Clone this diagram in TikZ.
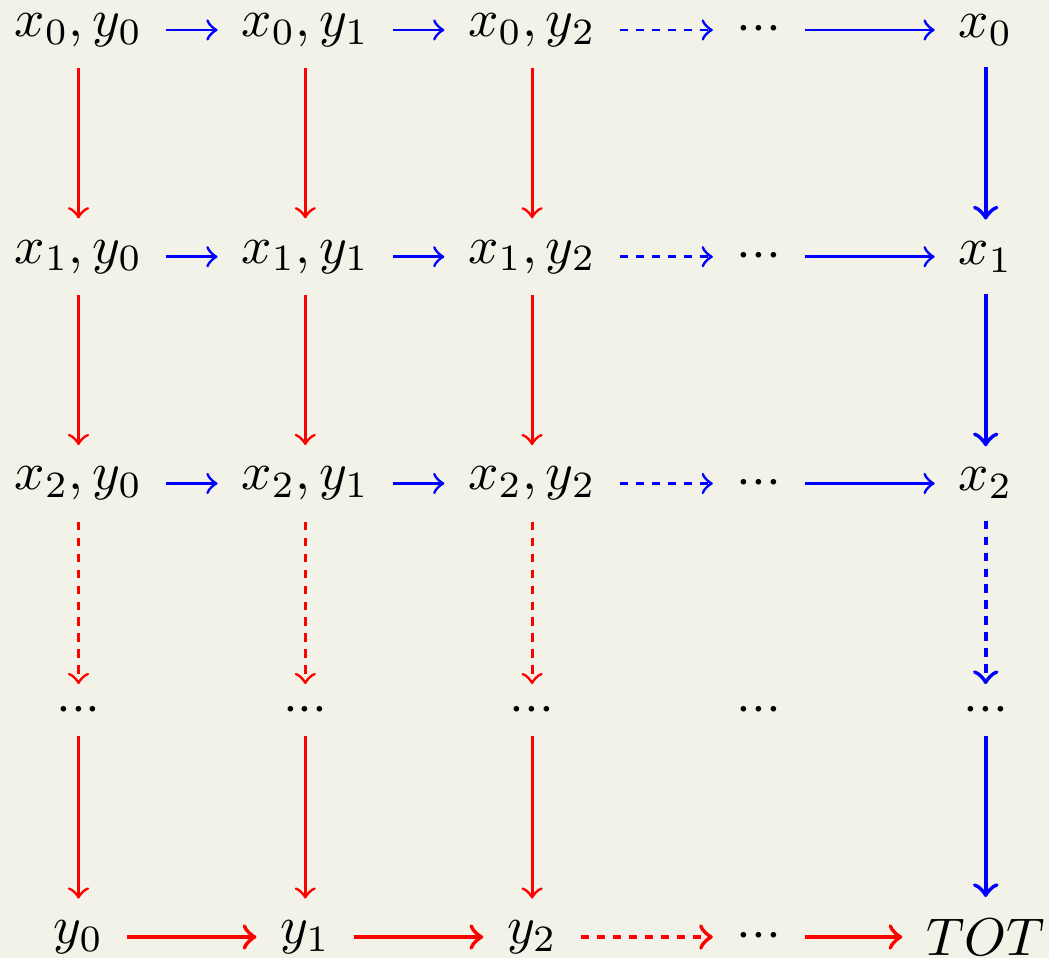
\documentclass[tikz,border=0pt]{standalone}
\usetikzlibrary{positioning}
\definecolor{bg}{RGB}{242,242,232}
\newcommand{\mydots}{${\cdot}{\cdot}{\cdot}$}
\begin{document}
\begin{tikzpicture}[x=0.18823pt,y=-0.18823pt,
  cell/.style={inner xsep=4.3pt,inner ysep=3.9pt},
  dotcell/.style={inner xsep=4.3pt,inner ysep=2.5pt},
  ar/.style={->},
  thinred/.style={ar,red,line width=0.55pt},
  thinblue/.style={ar,blue,line width=0.55pt},
  thickred/.style={ar,red,line width=0.8pt},
  thickblue/.style={ar,blue,line width=0.8pt},
  dsh/.style={dash pattern=on 1.6pt off 1.4pt}]
\fill[bg] (0,0) rectangle (1049,958);
\useasboundingbox (0,0) rectangle (1049,958);
% rows 1-3
\foreach \r in {0,1,2}{
  \node[cell] (a\r0) at (78.5,30+226.75*\r) {$x_{\r}, y_0$};
  \node[cell] (a\r1) at (305.3,30+226.75*\r) {$x_{\r}, y_1$};
  \node[cell] (a\r2) at (532.1,30+226.75*\r) {$x_{\r}, y_2$};
  \node[dotcell] (a\r3) at (758.9,30+226.75*\r) {\mydots};
  \node[cell] (a\r4) at (985.7,30+226.75*\r) {$x_{\r}$};
}
% row 4
\node[dotcell] (a30) at (78.5,710.25) {\mydots};
\node[dotcell] (a31) at (305.3,710.25) {\mydots};
\node[dotcell] (a32) at (532.1,710.25) {\mydots};
\node[dotcell] (a33) at (758.9,710.25) {\mydots};
\node[dotcell] (a34) at (985.7,710.25) {\mydots};
% row 5
\node[cell] (a40) at (78.5,937) {$y_0$};
\node[cell] (a41) at (305.3,937) {$y_1$};
\node[cell] (a42) at (532.1,937) {$y_2$};
\node[dotcell] (a43) at (758.9,937) {\mydots};
\node[cell] (a44) at (985.7,937) {$TOT$};
% horizontal arrows rows 1-3
\foreach \r in {0,1,2}{
  \draw[thinblue] (a\r0) -- (a\r1);
  \draw[thinblue] (a\r1) -- (a\r2);
  \draw[thinblue,dsh] (a\r2) -- (a\r3);
  \draw[thinblue] (a\r3) -- (a\r4);
}
% vertical red columns
\foreach \c in {0,1,2}{
  \draw[thinred] (a0\c) -- (a1\c);
  \draw[thinred] (a1\c) -- (a2\c);
  \draw[thinred,dsh] (a2\c) -- (a3\c);
  \draw[thinred] (a3\c) -- (a4\c);
}
% last column
\draw[thickblue] (a04) -- (a14);
\draw[thickblue] (a14) -- (a24);
\draw[thickblue,dsh] (a24) -- (a34);
\draw[thickblue] (a34) -- (a44);
% bottom row
\draw[thickred] (a40) -- (a41);
\draw[thickred] (a41) -- (a42);
\draw[thickred,dsh] (a42) -- (a43);
\draw[thickred] (a43) -- (a44);
\end{tikzpicture}
\end{document}
